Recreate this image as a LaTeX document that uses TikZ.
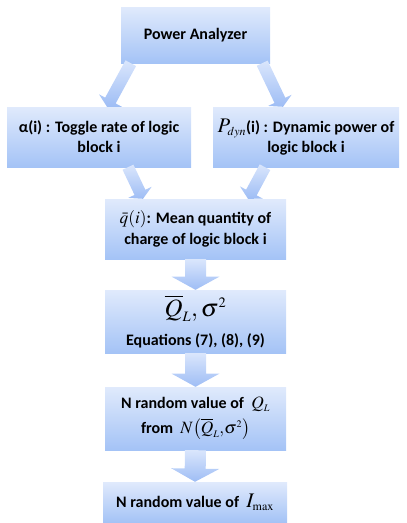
\documentclass[tikz,border=0pt]{standalone}
\usepackage{mathptmx}
\usepackage{fontspec}
\setmainfont{Carlito}
\usetikzlibrary{calc}

\definecolor{boxtop}{RGB}{224,234,252}
\definecolor{boxbot}{RGB}{164,195,246}
\definecolor{arrtop}{RGB}{218,230,252}
\definecolor{arrbot}{RGB}{158,189,245}

\begin{document}
\begin{tikzpicture}[x=1pt,y=-1pt,font=\fontsize{16}{20}\selectfont\bfseries,
  box/.style={top color=boxtop,bottom color=boxbot,align=center,inner sep=0pt,minimum height=60pt},
  fat/.style={top color=arrtop,bottom color=arrbot}]
\useasboundingbox (0,0) rectangle (407,523);
% fat arrow: from, to, half shaft, half head
\def\fatarrow#1#2#3#4{
 \coordinate (h) at ($(#2)!#4*0.55!(#1)$);
 \shade[fat] ($(#1)!#3!90:(#2)$) -- ($(h)!#3!90:(#2)$) -- ($(h)!#4!90:(#2)$) -- (#2)
  -- ($(h)!#4!-90:(#2)$) -- ($(h)!#3!-90:(#2)$) -- ($(#1)!#3!-90:(#2)$) -- cycle;
}
\node[box,minimum width=149pt,minimum height=56pt] (pa) at (195.5,35) {Power Analyzer};
\node[box,minimum width=184pt] (alpha) at (99,137) {α(i) : Toggle rate of logic\\ block i};
\node[box,minimum width=186pt] (pdyn) at (306,137) {{\huge$P_{\scriptscriptstyle dyn}$}(i) : Dynamic power of\\ logic block i};
\node[box,minimum width=181pt] (q) at (195.5,229) {{\LARGE$\bar{q}(i)$}: Mean quantity of\\[1pt] charge of logic block i};
\node[box,minimum width=181pt,minimum height=63pt] (ql) at (195.5,321.5) {{\Huge$\overline{Q}_{\scriptscriptstyle L}{,}\,\sigma^{\scriptscriptstyle 2}$}\\[9pt] Equations (7), (8), (9)};
\node[box,minimum width=181pt,minimum height=63pt] (nq) at (195.5,418.5) {N random value of \ {\LARGE$Q_{\scriptscriptstyle L}$}\\[5pt] from \ {\LARGE$N\!\left(\overline{Q}_{\scriptscriptstyle L}{,}\sigma^{\scriptscriptstyle 2}\right)$}};
\node[box,minimum width=184pt,minimum height=40pt] (im) at (195,502) {N random value of \ {\huge$I_{\scriptscriptstyle\max}$}};

% arrow ends
\coordinate (pa1) at ($(pa.south west)+(10,0)$);
\coordinate (pa2) at ($(pa.south east)+(-8,0)$);
\coordinate (al1) at ($(alpha.north)+(8,0)$);
\coordinate (al2) at ($(alpha.south)+(29,0)$);
\coordinate (pd1) at ($(pdyn.north)+(-23,0)$);
\coordinate (pd2) at ($(pdyn.south)+(-41,0)$);
\coordinate (q1) at ($(q.north)+(-52.5,0)$);
\coordinate (q2) at ($(q.north)+(52.5,0)$);

\fatarrow{pa1}{al1}{6pt}{13pt}
\fatarrow{pa2}{pd1}{6pt}{13pt}
\fatarrow{al2}{q1}{6pt}{13pt}
\fatarrow{pd2}{q2}{6pt}{13pt}
\foreach \a/\b in {q/ql,ql/nq,nq/im}
 \fatarrow{\a.south}{\b.north}{10.5pt}{24pt};
\end{tikzpicture}
\end{document}
